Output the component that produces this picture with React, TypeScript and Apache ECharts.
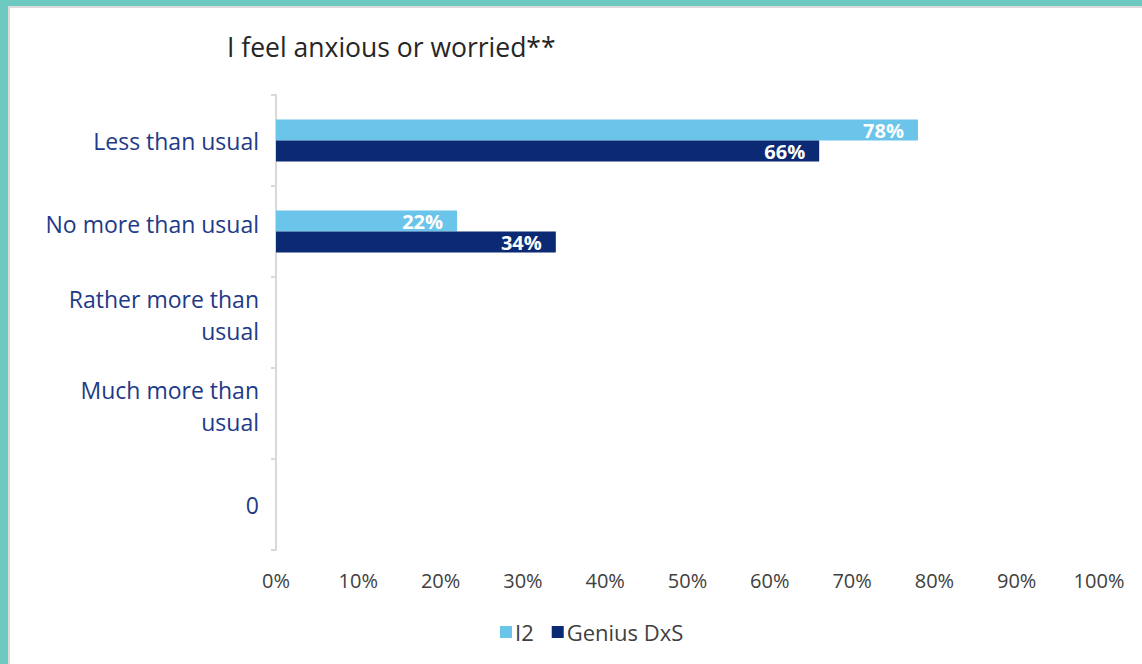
import React, { useEffect, useRef } from "react";
import * as echarts from "echarts";

const categories = [
  "Less than usual",
  "No more than usual",
  "Rather more than\nusual",
  "Much more than\nusual",
  "0",
];
const seriesNames = ["I2", "Genius DxS"];
const i2Values = [78, 22, null, null, null];
const geniusValues = [66, 34, null, null, null];
const titleText = "I feel anxious or worried**";

const FONT = "'Open Sans', 'Noto Sans', sans-serif";

export default function App() {
  const ref = useRef<HTMLDivElement>(null);
  useEffect(() => {
    if (!ref.current) return;
    const chart = echarts.init(ref.current, null, { renderer: "svg" });
    const barLabel = {
      show: true,
      position: "insideRight",
      distance: 14,
      formatter: "{c}%",
      color: "#ffffff",
      fontWeight: "bold",
      fontSize: 20,
      fontFamily: FONT,
    };
    const shifted = [false, true, true, true, false];
    chart.setOption({
      animation: false,
      backgroundColor: "#ffffff",
      textStyle: { fontFamily: FONT },
      graphic: [
        { type: "rect", shape: { x: 0, y: 0, width: 1142, height: 6 }, style: { fill: "#6ECAC0" } },
        { type: "rect", shape: { x: 0, y: 0, width: 8, height: 664 }, style: { fill: "#6ECAC0" } },
        { type: "rect", shape: { x: 8, y: 6, width: 1134, height: 2 }, style: { fill: "#dcdcdc" } },
        { type: "rect", shape: { x: 8, y: 6, width: 2, height: 658 }, style: { fill: "#dcdcdc" } },
      ],
      title: {
        text: titleText,
        left: 222,
        top: 28,
        textStyle: { fontFamily: FONT, fontSize: 26.5, fontWeight: "normal", color: "#262626" },
      },
      legend: {
        data: seriesNames,
        left: 495,
        top: 616,
        itemWidth: 12,
        itemHeight: 12,
        itemGap: 18,
        icon: "rect",
        textStyle: { fontFamily: FONT, fontSize: 22, color: "#404040", padding: [0, 0, 0, -2] },
      },
      grid: { left: 276, right: 43, top: 95, bottom: 114, containLabel: false },
      xAxis: {
        type: "value",
        min: 0,
        max: 100,
        interval: 10,
        axisLine: { show: false },
        axisTick: { show: false },
        splitLine: { show: false },
        axisLabel: {
          formatter: "{value}%",
          fontFamily: FONT,
          fontSize: 20,
          color: "#404040",
          margin: 20,
        },
      },
      yAxis: {
        type: "category",
        data: categories,
        inverse: true,
        axisLine: { show: true, lineStyle: { color: "#d9d9d9", width: 2 } },
        axisTick: { show: true, length: 5, lineStyle: { color: "#d9d9d9", width: 2 } },
        axisLabel: {
          fontFamily: FONT,
          fontSize: 23,
          color: "#1E3A88",
          margin: 17,
          align: "right",
          lineHeight: 32,
          formatter: (value: string, index: number) =>
            shifted[index] ? value + "\n{g| }" : value,
          rich: {
            g: { fontSize: 1, lineHeight: 16, height: 16 },
          },
        },
      },
      series: [
        {
          name: seriesNames[0],
          type: "bar",
          data: i2Values,
          barWidth: 21,
          barGap: "0%",
          itemStyle: { color: "#6BC5EA" },
          label: barLabel,
        },
        {
          name: seriesNames[1],
          type: "bar",
          data: geniusValues,
          barWidth: 21,
          barGap: "0%",
          itemStyle: { color: "#0B2A73" },
          label: barLabel,
        },
      ],
    });
    return () => chart.dispose();
  }, []);
  return (
    <div
      ref={ref}
      style={{ position: "absolute", left: 0, top: 0, width: 1142, height: 664 }}
    />
  );
}
